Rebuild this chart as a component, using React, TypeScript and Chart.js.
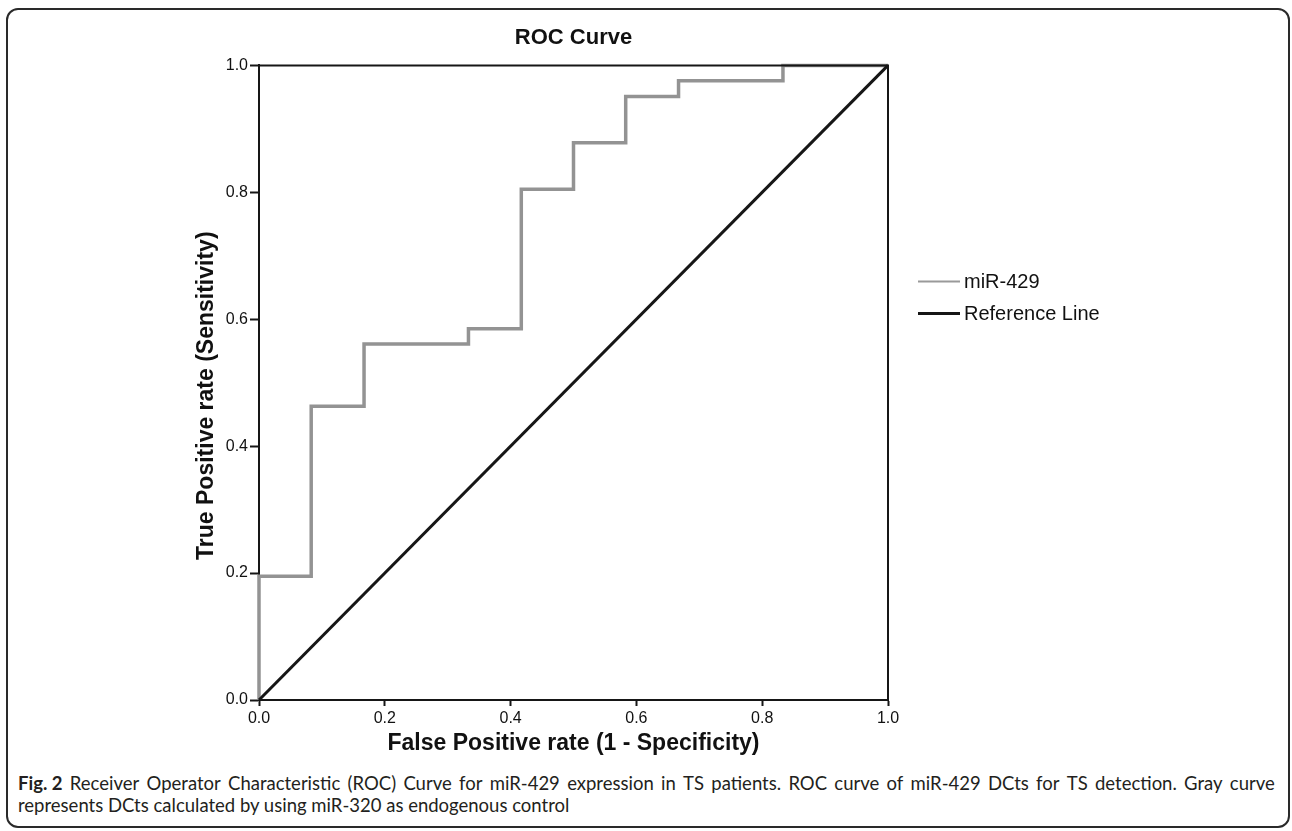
import React, { useEffect, useRef } from 'react';
import { Chart, registerables } from 'chart.js';

Chart.register(...registerables);

// ROC curve points (1 - specificity, sensitivity)
const fpr = [0, 0, 0.083, 0.167, 0.333, 0.417, 0.5, 0.583, 0.667, 0.833, 1.0];
const tpr = [0, 0.195, 0.463, 0.561, 0.585, 0.805, 0.878, 0.951, 0.976, 1.0, 1.0];
// Reference (chance) line
const refX = [0, 1];
const refY = [0, 1];
const tickValues = [0, 0.2, 0.4, 0.6, 0.8, 1.0];
const seriesLabels = ['miR-429', 'Reference Line'];
const chartTitle = 'ROC Curve';
const xTitle = 'False Positive rate (1 - Specificity)';
const yTitle = 'True Positive rate (Sensitivity)';
const captionBold = 'Fig. 2';
const captionLine1 =
  'Receiver Operator Characteristic (ROC) Curve for miR-429 expression in TS patients. ROC curve of miR-429 DCts for TS detection. Gray curve';
const captionLine2 = 'represents DCts calculated by using miR-320 as endogenous control';

const FONT = "'Liberation Sans', Arial, Helvetica, sans-serif";
const INK = '#161616';
const GRAY = '#939393';

const framePlugin = {
  id: 'frameAndLegend',
  afterDatasetsDraw(chart: any) {
    const { ctx, chartArea: a } = chart;
    ctx.save();
    ctx.strokeStyle = INK;
    ctx.lineWidth = 2;
    ctx.beginPath();
    ctx.moveTo(a.left, a.top);
    ctx.lineTo(a.right, a.top);
    ctx.lineTo(a.right, a.bottom);
    ctx.stroke();

    const legendColors = ['#9a9a9a', INK];
    const legendWidths = [2, 3];
    chart.data.datasets.forEach((ds: any, i: number) => {
      const y = a.top + 216 + i * 32;
      const x0 = a.right + 30;
      ctx.strokeStyle = legendColors[i];
      ctx.lineWidth = legendWidths[i];
      ctx.beginPath();
      ctx.moveTo(x0, y);
      ctx.lineTo(x0 + 42, y);
      ctx.stroke();
      ctx.fillStyle = '#111';
      ctx.font = `20px ${FONT}`;
      ctx.textAlign = 'left';
      ctx.textBaseline = 'middle';
      ctx.fillText(ds.label, x0 + 46, y + 1);
    });

    // y-axis title (slightly below the axis centre, as in the source)
    ctx.save();
    ctx.translate(a.left - 52, (a.top + a.bottom) / 2 + 13);
    ctx.rotate(-Math.PI / 2);
    ctx.fillStyle = '#111';
    ctx.font = `bold 23px ${FONT}`;
    ctx.textAlign = 'center';
    ctx.textBaseline = 'middle';
    ctx.fillText(yTitle, 0, 0);
    ctx.restore();
    ctx.restore();
  },
};

export default function App() {
  const canvasRef = useRef<HTMLCanvasElement | null>(null);

  useEffect(() => {
    if (!canvasRef.current) return;
    const setTicks = (scale: any) => {
      scale.ticks = tickValues.map((v) => ({ value: v }));
    };
    const chart = new Chart(canvasRef.current, {
      type: 'scatter',
      data: {
        datasets: [
          {
            label: seriesLabels[0],
            data: fpr.map((x, i) => ({ x, y: tpr[i] })),
            showLine: true,
            stepped: 'before',
            borderColor: GRAY,
            borderWidth: 3.5,
            pointRadius: 0,
            fill: false,
            clip: 6,
            order: 1,
          },
          {
            label: seriesLabels[1],
            data: refX.map((x, i) => ({ x, y: refY[i] })),
            showLine: true,
            borderColor: INK,
            borderWidth: 3,
            pointRadius: 0,
            fill: false,
            clip: 6,
            order: 0,
          },
        ],
      },
      options: {
        responsive: false,
        animation: false,
        devicePixelRatio: 1,
        layout: { padding: { left: 180, right: 404, top: 10, bottom: 0 } },
        plugins: {
          legend: { display: false },
          tooltip: { enabled: false },
          title: {
            display: true,
            text: chartTitle,
            fullSize: false,
            color: '#111',
            font: { family: FONT, size: 22, weight: 'bold' },
            padding: { top: 15, bottom: 14 },
          },
        },
        scales: {
          x: {
            type: 'linear',
            min: 0,
            max: 1,
            afterBuildTicks: setTicks,
            afterFit: (s: any) => {
              s.height = 60;
            },
            grid: {
              display: true,
              drawOnChartArea: false,
              drawTicks: true,
              tickLength: 6,
              tickWidth: 2,
              tickColor: INK,
            },
            border: { display: true, color: INK, width: 2 },
            ticks: {
              color: '#111',
              padding: 3,
              maxRotation: 0,
              font: { family: FONT, size: 16 },
              callback: (v: any) => Number(v).toFixed(1),
            },
            title: {
              display: true,
              text: xTitle,
              color: '#111',
              font: { family: FONT, size: 23, weight: 'bold' },
              padding: { top: 0, bottom: 3 },
            },
          },
          y: {
            type: 'linear',
            min: 0,
            max: 1,
            afterBuildTicks: setTicks,
            afterFit: (s: any) => {
              s.width = 79;
            },
            grid: {
              display: true,
              drawOnChartArea: false,
              drawTicks: true,
              tickLength: 9,
              tickWidth: 2,
              tickColor: INK,
            },
            border: { display: true, color: INK, width: 2 },
            ticks: {
              color: '#111',
              padding: 2,
              font: { family: FONT, size: 16 },
              callback: (v: any) => Number(v).toFixed(1),
            },
            title: { display: false, text: yTitle },
          },
        },
      },
      plugins: [framePlugin],
    } as any);
    return () => chart.destroy();
  }, []);

  const words = captionLine1.split(' ');

  return (
    <div style={{ position: 'absolute', left: 0, top: 0, width: 1292, height: 831, background: '#fff', overflow: 'hidden' }}>
      <div
        style={{
          position: 'absolute',
          left: 6,
          top: 8,
          width: 1284,
          height: 820,
          boxSizing: 'border-box',
          border: '2px solid #2a2a2a',
          borderRadius: 12,
        }}
      />
      <canvas ref={canvasRef} width={1292} height={760} style={{ position: 'absolute', left: 0, top: 0, width: 1292, height: 760 }} />
      <div
        style={{
          position: 'absolute',
          left: 18,
          top: 772,
          width: 1257,
          fontFamily: "Lato, 'Open Sans', sans-serif",
          fontSize: 18.5,
          lineHeight: '22px',
          color: '#231f20',
        }}
      >
        <div style={{ display: 'flex', justifyContent: 'space-between', whiteSpace: 'nowrap' }}>
          <span style={{ fontWeight: 'bold' }}>{captionBold}</span>
          {words.map((w, i) => (
            <span key={i}>{w}</span>
          ))}
        </div>
        <div style={{ whiteSpace: 'nowrap' }}>{captionLine2}</div>
      </div>
    </div>
  );
}
